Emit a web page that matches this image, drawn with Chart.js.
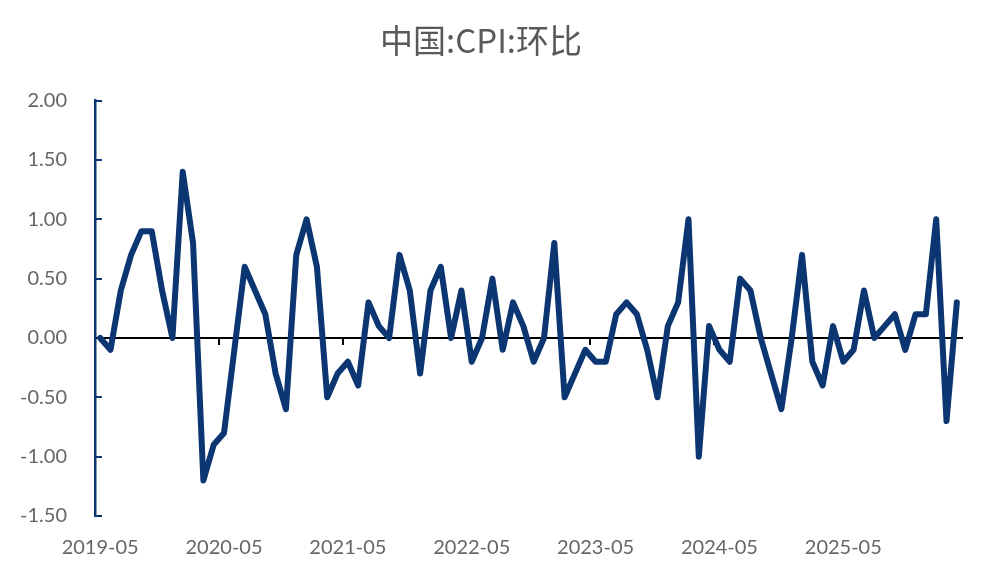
<!DOCTYPE html>
<html>
<head>
<meta charset="utf-8">
<script src="https://cdn.jsdelivr.net/npm/chart.js@4/dist/chart.umd.min.js"></script>
<style>
  html, body { margin:0; padding:0; background:#fff; }
  #wrap { width:991px; height:578px; }
</style>
</head>
<body>
<div id="wrap"><canvas id="cpi"></canvas></div>
<script>
    // Data
    const TITLE = '中国:CPI:环比';
    const START_YEAR = 2019, START_MONTH = 5, MONTHS = 84;   // 2019-05 .. 2026-04
    const cpiMoM = [
      0.0, -0.1, 0.4, 0.7, 0.9, 0.9, 0.4, 0.0,            // 2019-05 .. 2019-12
      1.4, 0.8, -1.2, -0.9, -0.8, -0.1, 0.6, 0.4, 0.2, -0.3, -0.6, 0.7,   // 2020
      1.0, 0.6, -0.5, -0.3, -0.2, -0.4, 0.3, 0.1, 0.0, 0.7, 0.4, -0.3,    // 2021
      0.4, 0.6, 0.0, 0.4, -0.2, 0.0, 0.5, -0.1, 0.3, 0.1, -0.2, 0.0,      // 2022
      0.8, -0.5, -0.3, -0.1, -0.2, -0.2, 0.2, 0.3, 0.2, -0.1, -0.5, 0.1,  // 2023
      0.3, 1.0, -1.0, 0.1, -0.1, -0.2, 0.5, 0.4, 0.0, -0.3, -0.6, 0.0,    // 2024
      0.7, -0.2, -0.4, 0.1, -0.2, -0.1, 0.4, 0.0, 0.1, 0.2, -0.1, 0.2,    // 2025
      0.2, 1.0, -0.7, 0.3                                 // 2026-01 .. 2026-04
    ];
    const yTicks = [-1.5, -1.0, -0.5, 0.0, 0.5, 1.0, 1.5, 2.0];

    const months = [];
    for(let i=0;i<MONTHS;i++){
      const m = START_MONTH - 1 + i;
      const y = START_YEAR + Math.floor(m/12);
      months.push(`${y}-${String(m%12+1).padStart(2,'0')}`);
    }

    const NAVY = '#0b3672';
    const GREY = '#666666';
    const FONT = 'Lato, "Liberation Sans", sans-serif';

    new Chart(document.getElementById('cpi'), {
      type: 'line',
      data: {
        labels: months,
        datasets: [{
          data: cpiMoM,
          borderColor: NAVY,
          borderWidth: 6,
          tension: 0,
          pointRadius: 0,
          borderJoinStyle: 'round',
          borderCapStyle: 'round',
          xAxisID: 'x',
          yAxisID: 'y'
        }]
      },
      options: {
        responsive: true,
        maintainAspectRatio: false,
        animation: false,
        layout: { padding: { top: 0, left: 0, right: 29, bottom: 17 } },
        plugins: {
          legend: { display: false },
          tooltip: { enabled: false },
          title: {
            display: true,
            text: TITLE,
            color: '#595959',
            font: { family: '"Noto Sans CJK SC", sans-serif', size: 33, weight: 'normal' },
            padding: { top: 21, bottom: 40 }
          }
        },
        scales: {
          x: {
            type: 'category',
            position: 'bottom',
            offset: true,
            border: { display: false },
            grid: { display: false, drawTicks: false, tickLength: 0 },
            afterFit: s => { s.height = 45; },
            ticks: {
              autoSkip: false,
              maxRotation: 0,
              padding: 20,
              color: GREY,
              font: { family: FONT, size: 20 },
              callback: (v, i) => i % 12 === 0 ? months[i] : ''
            }
          },
          x2: {
            type: 'category',
            position: { y: 0 },
            offset: true,
            border: { display: true, color: '#000', width: 2 },
            grid: {
              offset: true,
              drawOnChartArea: false,
              drawTicks: true,
              tickLength: 6,
              lineWidth: 2,
              color: c => c.index % 12 === 0 ? '#000' : 'rgba(0,0,0,0)'
            },
            ticks: { display: false }
          },
          y: {
            position: 'left',
            min: -1.5, max: 2.0,
            afterBuildTicks: s => { s.ticks = yTicks.map(v => ({ value: v })); },
            afterFit: s => { s.width = 95; },
            border: { display: true, color: NAVY, width: 2.5 },
            grid: {
              drawOnChartArea: false,
              drawTicks: true,
              tickLength: -7,
              color: NAVY,
              lineWidth: 2
            },
            ticks: {
              padding: 35,
              color: GREY,
              font: { family: FONT, size: 20 },
              callback: v => Number(v).toFixed(2)
            }
          }
        }
      }
    });
</script>
</body>
</html>
